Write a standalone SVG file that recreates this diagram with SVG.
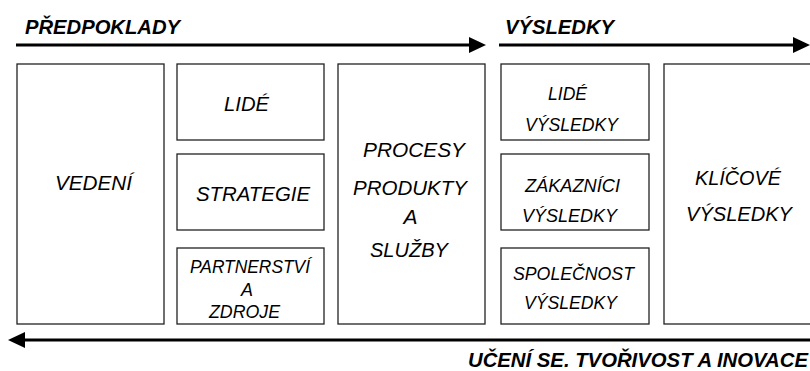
<svg xmlns="http://www.w3.org/2000/svg" width="810" height="371" viewBox="0 0 810 371">
<style>
  .box { fill: #ffffff; stroke: #222222; stroke-width: 1.3; }
  .t { font-family: "Liberation Sans", Arial, sans-serif; font-style: italic; fill: #000000; text-anchor: middle; }
  .big { font-size: 20px; }
  .small { font-size: 17.5px; }
  .head { font-family: "Liberation Sans", Arial, sans-serif; font-style: italic; font-weight: bold; font-size: 20px; fill: #000000; }
  .arrow { stroke: #000000; stroke-width: 3; fill: none; }
</style>
<defs>
  <marker id="ah" viewBox="0 0 17 16" markerWidth="17" markerHeight="16" refX="0" refY="8" markerUnits="userSpaceOnUse" orient="auto">
    <path d="M0,0 L17,8 L0,16 Z" fill="#000000"/>
  </marker>
</defs>
<rect width="810" height="371" fill="#ffffff"/>

<g id="connectors">
  <line class="arrow" x1="16" y1="45" x2="469" y2="45" marker-end="url(#ah)"/>
  <line class="arrow" x1="499" y1="45" x2="793" y2="45" marker-end="url(#ah)"/>
  <line class="arrow" x1="812" y1="340" x2="25" y2="340" marker-end="url(#ah)"/>
</g>

<g id="labels">
  <text class="head" x="25" y="34" textLength="155" lengthAdjust="spacingAndGlyphs">PŘEDPOKLADY</text>
  <text class="head" x="505" y="34" textLength="109" lengthAdjust="spacingAndGlyphs">VÝSLEDKY</text>
  <text class="head" x="468" y="367" textLength="340" lengthAdjust="spacingAndGlyphs">UČENÍ SE. TVOŘIVOST A INOVACE</text>
</g>

<g id="vedeni">
  <rect class="box" x="17" y="64" width="147" height="260"/>
  <text class="t big" x="93.5" y="190" textLength="77" lengthAdjust="spacingAndGlyphs">VEDENÍ</text>
</g>
<g id="lide">
  <rect class="box" x="177" y="64" width="147" height="76"/>
  <text class="t big" x="246.5" y="110.5" textLength="45" lengthAdjust="spacingAndGlyphs">LIDÉ</text>
</g>
<g id="strategie">
  <rect class="box" x="177" y="154" width="147" height="76"/>
  <text class="t big" x="253" y="200.5" textLength="114" lengthAdjust="spacingAndGlyphs">STRATEGIE</text>
</g>
<g id="partnerstvi">
  <rect class="box" x="177" y="248" width="147" height="76"/>
  <text class="t small" x="250" y="273" textLength="120" lengthAdjust="spacingAndGlyphs">PARTNERSTVÍ</text>
  <text class="t small" x="247" y="295.5" textLength="12" lengthAdjust="spacingAndGlyphs">A</text>
  <text class="t small" x="244.5" y="318" textLength="71" lengthAdjust="spacingAndGlyphs">ZDROJE</text>
</g>
<g id="procesy">
  <rect class="box" x="338" y="64" width="147" height="260"/>
  <text class="t big" x="414" y="157" textLength="102" lengthAdjust="spacingAndGlyphs">PROCESY</text>
  <text class="t big" x="410" y="195" textLength="114" lengthAdjust="spacingAndGlyphs">PRODUKTY</text>
  <text class="t big" x="410.5" y="224" textLength="14" lengthAdjust="spacingAndGlyphs">A</text>
  <text class="t big" x="409" y="257" textLength="78" lengthAdjust="spacingAndGlyphs">SLUŽBY</text>
</g>
<g id="lide-vysledky">
  <rect class="box" x="501" y="64" width="148" height="76"/>
  <text class="t small" x="567.5" y="99.5" textLength="39" lengthAdjust="spacingAndGlyphs">LIDÉ</text>
  <text class="t small" x="571.5" y="130.5" textLength="93" lengthAdjust="spacingAndGlyphs">VÝSLEDKY</text>
</g>
<g id="zakaznici-vysledky">
  <rect class="box" x="501" y="154" width="148" height="76"/>
  <text class="t small" x="572.5" y="191.5" textLength="95" lengthAdjust="spacingAndGlyphs">ZÁKAZNÍCI</text>
  <text class="t small" x="569.5" y="221.5" textLength="95" lengthAdjust="spacingAndGlyphs">VÝSLEDKY</text>
</g>
<g id="spolecnost-vysledky">
  <rect class="box" x="501" y="248" width="148" height="76"/>
  <text class="t small" x="573.5" y="279.5" textLength="121" lengthAdjust="spacingAndGlyphs">SPOLEČNOST</text>
  <text class="t small" x="570.5" y="308.5" textLength="93" lengthAdjust="spacingAndGlyphs">VÝSLEDKY</text>
</g>
<g id="klicove-vysledky">
  <rect class="box" x="664" y="64" width="150" height="260"/>
  <text class="t big" x="738" y="185" textLength="86" lengthAdjust="spacingAndGlyphs">KLÍČOVÉ</text>
  <text class="t big" x="739" y="221" textLength="106" lengthAdjust="spacingAndGlyphs">VÝSLEDKY</text>
</g>
</svg>
